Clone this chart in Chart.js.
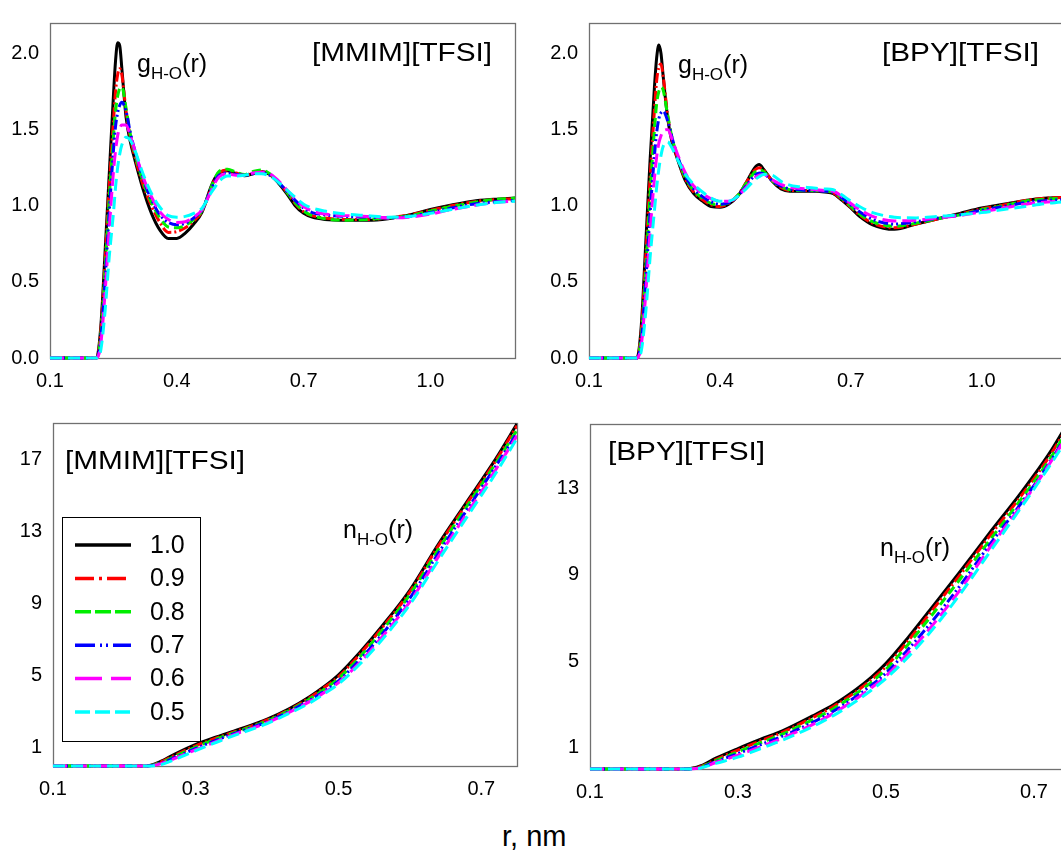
<!DOCTYPE html>
<html lang="en">
<head>
    <meta charset="UTF-8">
    <title>H-O radial distribution and running coordination number</title>
    <script src="https://cdn.jsdelivr.net/npm/chart.js@4.4.1/dist/chart.umd.min.js"></script>
    <style>
        html, body {
            margin: 0;
            padding: 0;
            background: #fff;
            overflow: hidden;
        }
        body {
            position: relative;
            width: 1061px;
            height: 850px;
            font-family: "Liberation Sans", Arial, sans-serif;
        }
        canvas {
            position: absolute;
        }
        #tl { left: 0; top: 0; }
        #tr { left: 540px; top: 0; }
        #bl { left: 0; top: 400px; }
        #br { left: 540px; top: 400px; }
        #xlabel {
            position: absolute;
            left: 502px;
            top: 822px;
            font-size: 29px;
            line-height: 29px;
            color: #000;
        }
    </style>
</head>
<body>
    <canvas id="tl" width="530" height="400"></canvas>
    <canvas id="tr" width="540" height="400"></canvas>
    <canvas id="bl" width="530" height="420"></canvas>
    <canvas id="br" width="540" height="420"></canvas>
    <div id="xlabel">r, nm</div>
    <script>
        // series labels (legend), same order in every panel
        const fractions = ["1.0", "0.9", "0.8", "0.7", "0.6", "0.5"];

        // r grid (nm) for g(r) panels
        const rG = [
            0.10, 0.20, 0.21, 0.22, 0.23, 0.24,
            0.25, 0.255, 0.26, 0.265, 0.27,
            0.28, 0.29, 0.30,
            0.32, 0.34, 0.36, 0.38, 0.40,
            0.42, 0.44, 0.46, 0.48, 0.49,
            0.50, 0.52, 0.54, 0.56, 0.58,
            0.60, 0.62, 0.64, 0.66, 0.68,
            0.70, 0.72, 0.75,
            0.80, 0.85, 0.90, 0.95,
            1.00, 1.05, 1.10, 1.15, 1.20
        ];

        // g_H-O(r), [MMIM][TFSI]
        const gMMIM = [
            [0, 0, 0, 0.20, 0.68, 1.20, 1.72, 1.95, 2.07, 2.05, 1.90, 1.58, 1.42, 1.31,
             1.11, 0.95, 0.84, 0.785, 0.785, 0.82, 0.88, 0.96, 1.12, 1.18,
             1.215, 1.23, 1.21, 1.197, 1.21, 1.225, 1.205, 1.15, 1.08, 1.00,
             0.95, 0.925, 0.91, 0.905, 0.905, 0.915, 0.94, 0.975, 1.005, 1.03, 1.042, 1.05],
            [0, 0, 0, 0.17, 0.62, 1.12, 1.55, 1.75, 1.86, 1.90, 1.86, 1.62, 1.45, 1.33,
             1.14, 1.00, 0.89, 0.825, 0.83, 0.855, 0.90, 0.965, 1.11, 1.175,
             1.215, 1.235, 1.215, 1.20, 1.215, 1.225, 1.205, 1.155, 1.09, 1.015,
             0.96, 0.935, 0.92, 0.91, 0.91, 0.92, 0.94, 0.97, 1.00, 1.025, 1.04, 1.045],
            [0, 0, 0, 0.14, 0.56, 1.04, 1.45, 1.62, 1.72, 1.77, 1.78, 1.64, 1.47, 1.35,
             1.16, 1.02, 0.92, 0.86, 0.855, 0.87, 0.91, 0.97, 1.11, 1.18,
             1.225, 1.24, 1.22, 1.205, 1.225, 1.235, 1.21, 1.155, 1.09, 1.02,
             0.965, 0.935, 0.915, 0.905, 0.91, 0.92, 0.935, 0.965, 0.995, 1.02, 1.04, 1.05],
            [0, 0, 0, 0.12, 0.50, 0.95, 1.36, 1.52, 1.61, 1.66, 1.68, 1.62, 1.48, 1.37,
             1.18, 1.04, 0.94, 0.89, 0.875, 0.885, 0.92, 0.975, 1.10, 1.16,
             1.20, 1.215, 1.205, 1.20, 1.21, 1.215, 1.20, 1.155, 1.095, 1.035,
             0.985, 0.955, 0.94, 0.93, 0.925, 0.92, 0.93, 0.955, 0.985, 1.01, 1.025, 1.035],
            [0, 0, 0, 0.09, 0.42, 0.84, 1.22, 1.36, 1.46, 1.51, 1.53, 1.53, 1.46, 1.37,
             1.19, 1.06, 0.96, 0.91, 0.89, 0.895, 0.925, 0.975, 1.09, 1.15,
             1.19, 1.21, 1.20, 1.20, 1.215, 1.22, 1.21, 1.165, 1.105, 1.045,
             0.995, 0.965, 0.945, 0.935, 0.93, 0.92, 0.925, 0.945, 0.975, 1.00, 1.02, 1.03],
            [0, 0, 0, 0.05, 0.30, 0.66, 0.95, 1.12, 1.25, 1.34, 1.40, 1.45, 1.43, 1.37,
             1.21, 1.08, 0.99, 0.935, 0.925, 0.93, 0.95, 0.985, 1.08, 1.12,
             1.16, 1.195, 1.195, 1.20, 1.21, 1.21, 1.195, 1.155, 1.105, 1.055,
             1.01, 0.985, 0.965, 0.945, 0.935, 0.925, 0.93, 0.95, 0.975, 1.00, 1.02, 1.03]
        ];

        // g_H-O(r), [BPY][TFSI]
        const gBPY = [
            [0, 0, 0, 0.22, 0.75, 1.30, 1.78, 1.97, 2.055, 2.00, 1.85, 1.58, 1.42, 1.33,
             1.17, 1.08, 1.03, 0.995, 0.99, 1.01, 1.06, 1.15, 1.25, 1.27,
             1.24, 1.16, 1.11, 1.095, 1.095, 1.095, 1.095, 1.09, 1.08, 1.035,
             0.985, 0.93, 0.875, 0.845, 0.88, 0.915, 0.95, 0.985, 1.01, 1.035, 1.05, 1.055],
            [0, 0, 0, 0.18, 0.66, 1.18, 1.63, 1.82, 1.91, 1.93, 1.85, 1.60, 1.44, 1.34,
             1.18, 1.09, 1.04, 1.005, 0.995, 1.015, 1.065, 1.15, 1.235, 1.25,
             1.235, 1.165, 1.12, 1.10, 1.10, 1.10, 1.10, 1.095, 1.085, 1.04,
             0.99, 0.94, 0.885, 0.855, 0.88, 0.915, 0.945, 0.98, 1.005, 1.035, 1.05, 1.055],
            [0, 0, 0, 0.15, 0.58, 1.08, 1.50, 1.67, 1.75, 1.78, 1.76, 1.60, 1.45, 1.35,
             1.19, 1.10, 1.05, 1.015, 1.005, 1.02, 1.065, 1.145, 1.22, 1.235,
             1.225, 1.165, 1.125, 1.105, 1.10, 1.10, 1.10, 1.095, 1.09, 1.045,
             0.995, 0.945, 0.895, 0.865, 0.885, 0.915, 0.94, 0.975, 1.00, 1.03, 1.045, 1.05],
            [0, 0, 0, 0.12, 0.50, 0.95, 1.33, 1.48, 1.57, 1.61, 1.62, 1.56, 1.45, 1.35,
             1.20, 1.11, 1.06, 1.025, 1.01, 1.02, 1.06, 1.13, 1.20, 1.215,
             1.21, 1.165, 1.13, 1.11, 1.105, 1.10, 1.10, 1.095, 1.09, 1.05,
             1.005, 0.96, 0.91, 0.88, 0.895, 0.92, 0.94, 0.97, 0.995, 1.02, 1.035, 1.04],
            [0, 0, 0, 0.09, 0.42, 0.83, 1.18, 1.32, 1.41, 1.46, 1.49, 1.50, 1.44, 1.36,
             1.22, 1.13, 1.08, 1.045, 1.03, 1.03, 1.06, 1.12, 1.185, 1.20,
             1.205, 1.17, 1.14, 1.12, 1.115, 1.11, 1.105, 1.10, 1.095, 1.06,
             1.015, 0.975, 0.93, 0.90, 0.905, 0.92, 0.935, 0.96, 0.985, 1.01, 1.025, 1.03],
            [0, 0, 0, 0.05, 0.30, 0.66, 0.97, 1.12, 1.24, 1.33, 1.39, 1.42, 1.38, 1.32,
             1.21, 1.14, 1.09, 1.05, 1.03, 1.03, 1.06, 1.11, 1.17, 1.19,
             1.205, 1.20, 1.16, 1.135, 1.125, 1.12, 1.115, 1.11, 1.105, 1.07,
             1.03, 0.995, 0.955, 0.925, 0.92, 0.93, 0.94, 0.955, 0.975, 0.995, 1.015, 1.03]
        ];

        // r grid (nm) for n(r) panels
        const rN = [0.10, 0.23, 0.25, 0.27, 0.30, 0.33, 0.36, 0.40, 0.43, 0.46,
                    0.48, 0.50, 0.53, 0.56, 0.60, 0.64, 0.68, 0.72, 0.75];

        // n_H-O(r), [MMIM][TFSI]
        const nMMIM = [
            [0, 0, 0.24, 0.65, 1.20, 1.62, 2.02, 2.60, 3.15, 3.85, 4.40, 5.05, 6.30, 7.70, 9.75, 12.30, 14.65, 17.00, 18.95],
            [0, 0, 0.20, 0.58, 1.12, 1.57, 1.97, 2.55, 3.10, 3.80, 4.35, 4.95, 6.20, 7.60, 9.65, 12.20, 14.55, 16.90, 18.85],
            [0, 0, 0.17, 0.52, 1.05, 1.52, 1.93, 2.50, 3.05, 3.72, 4.25, 4.85, 6.05, 7.45, 9.50, 12.00, 14.40, 16.75, 18.60],
            [0, 0, 0.14, 0.46, 0.97, 1.45, 1.88, 2.45, 3.00, 3.65, 4.15, 4.72, 5.90, 7.25, 9.30, 11.80, 14.20, 16.60, 18.45],
            [0, 0, 0.12, 0.41, 0.90, 1.38, 1.83, 2.40, 2.95, 3.58, 4.07, 4.62, 5.75, 7.10, 9.10, 11.60, 14.00, 16.40, 18.30],
            [0, 0, 0.06, 0.35, 0.85, 1.33, 1.78, 2.35, 2.90, 3.50, 4.00, 4.55, 5.65, 6.95, 8.95, 11.40, 13.80, 16.20, 18.15]
        ];

        // n_H-O(r), [BPY][TFSI]
        const nBPY = [
            [0, 0, 0.15, 0.50, 0.95, 1.37, 1.77, 2.45, 3.00, 3.70, 4.25, 4.90, 6.10, 7.40, 9.15, 10.95, 12.70, 14.60, 16.30],
            [0, 0, 0.12, 0.44, 0.88, 1.30, 1.70, 2.37, 2.92, 3.60, 4.13, 4.75, 5.95, 7.25, 9.00, 10.80, 12.55, 14.45, 16.15],
            [0, 0, 0.10, 0.39, 0.80, 1.21, 1.62, 2.27, 2.82, 3.50, 4.02, 4.62, 5.78, 7.05, 8.80, 10.60, 12.40, 14.30, 16.00],
            [0, 0, 0.08, 0.34, 0.72, 1.12, 1.52, 2.15, 2.70, 3.37, 3.88, 4.45, 5.55, 6.75, 8.50, 10.40, 12.20, 14.15, 15.85],
            [0, 0, 0.06, 0.30, 0.64, 1.03, 1.43, 2.05, 2.60, 3.26, 3.76, 4.32, 5.38, 6.55, 8.30, 10.25, 12.10, 14.10, 15.75],
            [0, 0, 0.05, 0.26, 0.55, 0.94, 1.34, 1.95, 2.50, 3.15, 3.65, 4.20, 5.20, 6.35, 8.10, 10.05, 12.00, 14.00, 15.60]
        ];

        // tick values
        const gTicksX = [0.1, 0.4, 0.7, 1.0];
        const gTicksY = [0.0, 0.5, 1.0, 1.5, 2.0];
        const nTicksX = [0.1, 0.3, 0.5, 0.7];
        const nTicksYMMIM = [1, 5, 9, 13, 17];
        const nTicksYBPY = [1, 5, 9, 13];

        const FONT = '"Liberation Sans", Arial, sans-serif';
        const colors = ["#000000", "#ff0000", "#00ee00", "#0000ff", "#ff00ff", "#00ffff"];
        const plotDash = [[], [10, 3, 2, 3], [9, 5], [10, 3, 2, 3, 2, 3], [14, 6], [12, 6]];
        const legendDash = [[], [19, 5, 3, 5], [16, 4], [20, 5, 2, 4, 2, 5], [27, 9], [15, 5]];

        // grey frame round the plot area, under the curves
        const framePlugin = {
            id: "frame",
            beforeDatasetsDraw(chart) {
                const { ctx, chartArea: a } = chart;
                ctx.save();
                ctx.strokeStyle = "#707070";
                ctx.lineWidth = 1.3;
                ctx.strokeRect(Math.round(a.left) + 0.5, Math.round(a.top) + 0.5,
                    Math.round(a.right - a.left), Math.round(a.bottom - a.top));
                ctx.restore();
            }
        };

        function drawFn(ctx, main, x, y) {
            ctx.font = "25px " + FONT;
            ctx.fillText(main, x, y);
            x += ctx.measureText(main).width;
            ctx.font = "17px " + FONT;
            ctx.fillText("H-O", x, y + 7);
            x += ctx.measureText("H-O").width;
            ctx.font = "25px " + FONT;
            ctx.fillText("(r)", x, y);
        }

        function drawLegend(ctx, box) {
            ctx.strokeStyle = "#000";
            ctx.lineWidth = 1;
            ctx.strokeRect(box.x + 0.5, box.y + 0.5, box.w, box.h);
            ctx.font = "25px " + FONT;
            ctx.textBaseline = "middle";
            fractions.forEach((f, i) => {
                const y = box.y + 28 + i * 33.4;
                ctx.save();
                ctx.strokeStyle = colors[i];
                ctx.lineWidth = 3.5;
                ctx.setLineDash(legendDash[i]);
                ctx.beginPath();
                ctx.moveTo(box.x + 13, y);
                ctx.lineTo(box.x + 69, y);
                ctx.stroke();
                ctx.restore();
                ctx.fillStyle = "#000";
                ctx.fillText(f, box.x + 88, y + 1);
            });
        }

        const notesPlugin = {
            id: "notes",
            afterDatasetsDraw(chart, args, opts) {
                const ctx = chart.ctx;
                ctx.save();
                ctx.fillStyle = "#000";
                ctx.textBaseline = "alphabetic";
                // the panel names are set a little wider than plain Arial
                ctx.save();
                ctx.translate(opts.titleX, opts.titleY);
                ctx.scale(1.19, 1);
                ctx.font = "25px " + FONT;
                ctx.fillText(opts.title, 0, 0);
                ctx.restore();
                drawFn(ctx, opts.fn, opts.fnX, opts.fnY);
                if (opts.legend) drawLegend(ctx, opts.legend);
                ctx.restore();
            }
        };

        function makeSets(r, rows) {
            return rows.map((vals, i) => ({
                label: fractions[i],
                data: r.map((x, k) => ({ x: x, y: vals[k] })),
                borderColor: colors[i],
                borderWidth: 3,
                borderDash: plotDash[i],
                pointRadius: 0,
                fill: false,
                cubicInterpolationMode: "monotone",
                order: rows.length - i,
                clip: { left: 3, top: 0, right: 0, bottom: 3 }
            }));
        }

        function axis(min, max, ticks, digits, fitFn) {
            return {
                type: "linear",
                min: min,
                max: max,
                afterBuildTicks: s => { s.ticks = ticks.map(v => ({ value: v })); },
                afterFit: fitFn,
                grid: { display: false, drawTicks: false },
                border: { display: false },
                ticks: {
                    color: "#000",
                    font: { size: 20, family: FONT },
                    padding: 11,
                    autoSkip: false,
                    maxRotation: 0,
                    callback: v => v.toFixed(digits)
                }
            };
        }

        function makeChart(id, r, rows, p) {
            new Chart(document.getElementById(id), {
                type: "line",
                data: { datasets: makeSets(r, rows) },
                options: {
                    responsive: false,
                    animation: false,
                    events: [],
                    layout: { padding: { left: 0, top: p.top, right: p.right, bottom: 0 } },
                    scales: {
                        x: axis(p.xMin, p.xMax, p.xTicks, 1, s => { s.height = p.xh; }),
                        y: axis(p.yMin, p.yMax, p.yTicks, p.yDigits, s => { s.width = p.yw; })
                    },
                    plugins: {
                        legend: { display: false },
                        tooltip: { enabled: false },
                        notes: p.notes
                    }
                },
                plugins: [framePlugin, notesPlugin]
            });
        }

        makeChart("tl", rG, gMMIM, {
            top: 14, right: 15, xh: 42, yw: 50,
            xMin: 0.1, xMax: 1.2, xTicks: gTicksX,
            yMin: 0, yMax: 2.2, yTicks: gTicksY, yDigits: 1,
            notes: { title: "[MMIM][TFSI]", titleX: 312, titleY: 61, fn: "g", fnX: 137, fnY: 72 }
        });

        makeChart("tr", rG, gBPY, {
            top: 14, right: 11, xh: 42, yw: 49,
            xMin: 0.1, xMax: 1.2, xTicks: gTicksX,
            yMin: 0, yMax: 2.2, yTicks: gTicksY, yDigits: 1,
            notes: { title: "[BPY][TFSI]", titleX: 342, titleY: 61, fn: "g", fnX: 138, fnY: 73 }
        });

        makeChart("bl", rN, nMMIM, {
            top: 22, right: 13, xh: 54, yw: 53,
            xMin: 0.1, xMax: 0.75, xTicks: nTicksX,
            yMin: 0, yMax: 19, yTicks: nTicksYMMIM, yDigits: 0,
            notes: {
                title: "[MMIM][TFSI]", titleX: 65, titleY: 69, fn: "n", fnX: 343, fnY: 138,
                legend: { x: 62, y: 117, w: 138, h: 224 }
            }
        });

        makeChart("br", rN, nBPY, {
            top: 24, right: 9, xh: 51, yw: 50,
            xMin: 0.1, xMax: 0.75, xTicks: nTicksX,
            yMin: 0, yMax: 16, yTicks: nTicksYBPY, yDigits: 0,
            notes: { title: "[BPY][TFSI]", titleX: 68, titleY: 60, fn: "n", fnX: 340, fnY: 156 }
        });
    </script>
</body>
</html>
